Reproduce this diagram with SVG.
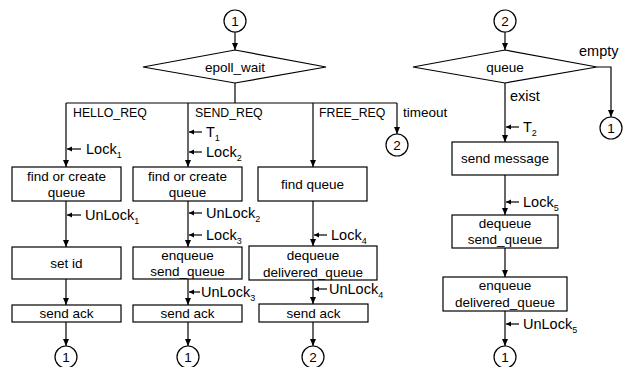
<svg xmlns="http://www.w3.org/2000/svg" width="629" height="367" viewBox="0 0 629 367">
<style>
.s{fill:none;stroke:#000;stroke-width:1.2}
.b{fill:#fff;stroke:#000;stroke-width:1.2}
.t{font-family:"Liberation Sans",Arial,sans-serif;font-size:13.5px;fill:#000;text-anchor:middle}
.l{font-family:"Liberation Sans",Arial,sans-serif;font-size:13.5px;fill:#000}
.u{font-family:"Liberation Sans",Arial,sans-serif;font-size:12.3px;fill:#000}
.k{font-family:"Liberation Sans",Arial,sans-serif;font-size:14.5px;fill:#000}
.sub{font-size:9px}
.c{font-family:"Liberation Sans",Arial,sans-serif;font-size:13.5px;fill:#000;text-anchor:middle}
</style>
<defs>
<marker id="a" markerUnits="userSpaceOnUse" markerWidth="8" markerHeight="8" refX="7" refY="4" orient="auto">
<path d="M0,1 L7,4 L0,7 Z" fill="#000"/>
</marker>
<marker id="sa" markerUnits="userSpaceOnUse" markerWidth="6" markerHeight="6" refX="5" refY="3" orient="auto">
<path d="M0,0.5 L5,3 L0,5.5 Z" fill="#000"/>
</marker>
</defs>

<g id="connectors">
<line class="s" x1="235" y1="32" x2="235" y2="50" marker-end="url(#a)"/>
<line class="s" x1="235" y1="83" x2="235" y2="103"/>
<line class="s" x1="66" y1="103" x2="397" y2="103"/>
<line class="s" x1="66" y1="103" x2="66" y2="167" marker-end="url(#a)"/>
<line class="s" x1="188" y1="103" x2="188" y2="167" marker-end="url(#a)"/>
<line class="s" x1="313" y1="103" x2="313" y2="167" marker-end="url(#a)"/>
<line class="s" x1="397" y1="103" x2="397" y2="134" marker-end="url(#a)"/>
<line class="s" x1="66" y1="201" x2="66" y2="247" marker-end="url(#a)"/>
<line class="s" x1="66" y1="279" x2="66" y2="305" marker-end="url(#a)"/>
<line class="s" x1="66" y1="322" x2="66" y2="346" marker-end="url(#a)"/>
<line class="s" x1="188" y1="201" x2="188" y2="247" marker-end="url(#a)"/>
<line class="s" x1="188" y1="279" x2="188" y2="305" marker-end="url(#a)"/>
<line class="s" x1="188" y1="322" x2="188" y2="346" marker-end="url(#a)"/>
<line class="s" x1="313" y1="201" x2="313" y2="246" marker-end="url(#a)"/>
<line class="s" x1="313" y1="280" x2="313" y2="304" marker-end="url(#a)"/>
<line class="s" x1="313" y1="322" x2="313" y2="346" marker-end="url(#a)"/>
<line class="s" x1="505" y1="32" x2="505" y2="50" marker-end="url(#a)"/>
<line class="s" x1="505" y1="83" x2="505" y2="142" marker-end="url(#a)"/>
<line class="s" x1="505" y1="175" x2="505" y2="215" marker-end="url(#a)"/>
<line class="s" x1="505" y1="248" x2="505" y2="277" marker-end="url(#a)"/>
<line class="s" x1="505" y1="311" x2="505" y2="346" marker-end="url(#a)"/>
<polyline class="s" points="597,67 611,67 611,117" marker-end="url(#a)"/>
<line class="s" x1="81" y1="149" x2="67" y2="149" marker-end="url(#sa)"/>
<line class="s" x1="81" y1="215" x2="67" y2="215" marker-end="url(#sa)"/>
<line class="s" x1="202" y1="132" x2="189" y2="132" marker-end="url(#sa)"/>
<line class="s" x1="202" y1="152" x2="189" y2="152" marker-end="url(#sa)"/>
<line class="s" x1="202" y1="213" x2="189" y2="213" marker-end="url(#sa)"/>
<line class="s" x1="202" y1="235" x2="189" y2="235" marker-end="url(#sa)"/>
<line class="s" x1="200" y1="292" x2="189" y2="292" marker-end="url(#sa)"/>
<line class="s" x1="327" y1="235" x2="314" y2="235" marker-end="url(#sa)"/>
<line class="s" x1="327" y1="289" x2="314" y2="289" marker-end="url(#sa)"/>
<line class="s" x1="519" y1="127" x2="506" y2="127" marker-end="url(#sa)"/>
<line class="s" x1="519" y1="202" x2="506" y2="202" marker-end="url(#sa)"/>
<line class="s" x1="519" y1="324" x2="506" y2="324" marker-end="url(#sa)"/>
</g>

<g id="labels">
<text class="u" x="73" y="117">HELLO_REQ</text>
<text class="u" x="195" y="117">SEND_REQ</text>
<text class="u" x="319" y="117">FREE_REQ</text>
<text class="l" x="403" y="117">timeout</text>
<text class="k" x="510" y="101">exist</text>
<text class="k" x="579" y="56">empty</text>
<text class="k" x="86" y="154">Lock<tspan class="sub" dy="4">1</tspan></text>
<text class="k" x="85" y="220">UnLock<tspan class="sub" dy="4">1</tspan></text>
<text class="k" x="206" y="137">T<tspan class="sub" dy="4">1</tspan></text>
<text class="k" x="206" y="157">Lock<tspan class="sub" dy="4">2</tspan></text>
<text class="k" x="206" y="218">UnLock<tspan class="sub" dy="4">2</tspan></text>
<text class="k" x="206" y="240">Lock<tspan class="sub" dy="4">3</tspan></text>
<text class="k" x="201" y="297">UnLock<tspan class="sub" dy="4">3</tspan></text>
<text class="k" x="331" y="240">Lock<tspan class="sub" dy="4">4</tspan></text>
<text class="k" x="329" y="294">UnLock<tspan class="sub" dy="4">4</tspan></text>
<text class="k" x="523" y="132">T<tspan class="sub" dy="4">2</tspan></text>
<text class="k" x="523" y="207">Lock<tspan class="sub" dy="4">5</tspan></text>
<text class="k" x="523" y="329">UnLock<tspan class="sub" dy="4">5</tspan></text>
</g>

<g id="c_top1"><circle class="b" cx="235" cy="21" r="11"/><text class="c" x="235" y="26">1</text></g>
<g id="c_top2"><circle class="b" cx="505" cy="21" r="11"/><text class="c" x="505" y="26">2</text></g>
<g id="d_epoll"><polygon class="b" points="235,50 326,67 235,83 143,67"/><text class="t" x="235" y="72">epoll_wait</text></g>
<g id="d_queue"><polygon class="b" points="505,50 597,67 505,83 413,67"/><text class="t" x="505" y="72">queue</text></g>
<g id="c_timeout2"><circle class="b" cx="397" cy="145" r="11"/><text class="c" x="397" y="150">2</text></g>
<g id="c_empty1"><circle class="b" cx="611" cy="128" r="11"/><text class="c" x="611" y="133">1</text></g>

<g id="b_find1"><rect class="b" x="12" y="167" width="109" height="34"/><text class="t" x="66.5" y="181">find or create</text><text class="t" x="66.5" y="197">queue</text></g>
<g id="b_setid"><rect class="b" x="12" y="247" width="109" height="32"/><text class="t" x="66.5" y="268">set id</text></g>
<g id="b_ack1"><rect class="b" x="12" y="305" width="109" height="17"/><text class="t" x="66.5" y="318">send ack</text></g>
<g id="c_b1"><circle class="b" cx="66" cy="357" r="11"/><text class="c" x="66" y="362">1</text></g>

<g id="b_find2"><rect class="b" x="133" y="167" width="109" height="34"/><text class="t" x="187.5" y="181">find or create</text><text class="t" x="187.5" y="197">queue</text></g>
<g id="b_enq"><rect class="b" x="133" y="247" width="109" height="32"/><text class="t" x="187.5" y="260">enqueue</text><text class="t" x="187.5" y="276">send_queue</text></g>
<g id="b_ack2"><rect class="b" x="133" y="305" width="109" height="17"/><text class="t" x="187.5" y="318">send ack</text></g>
<g id="c_b2"><circle class="b" cx="188" cy="357" r="11"/><text class="c" x="188" y="362">1</text></g>

<g id="b_findq"><rect class="b" x="258" y="167" width="109" height="34"/><text class="t" x="312.5" y="189">find queue</text></g>
<g id="b_deq"><rect class="b" x="249" y="246" width="128" height="34"/><text class="t" x="313" y="260">dequeue</text><text class="t" x="313" y="277">delivered_queue</text></g>
<g id="b_ack3"><rect class="b" x="259" y="304" width="109" height="18"/><text class="t" x="313.5" y="318">send ack</text></g>
<g id="c_b3"><circle class="b" cx="313" cy="357" r="11"/><text class="c" x="313" y="362">2</text></g>

<g id="b_sendmsg"><rect class="b" x="452" y="142" width="106" height="33"/><text class="t" x="505" y="163">send message</text></g>
<g id="b_deqs"><rect class="b" x="452" y="215" width="106" height="33"/><text class="t" x="505" y="228">dequeue</text><text class="t" x="505" y="244">send_queue</text></g>
<g id="b_enqd"><rect class="b" x="443" y="277" width="124" height="34"/><text class="t" x="505" y="290">enqueue</text><text class="t" x="505" y="307">delivered_queue</text></g>
<g id="c_b4"><circle class="b" cx="505" cy="357" r="11"/><text class="c" x="505" y="362">1</text></g>
</svg>
